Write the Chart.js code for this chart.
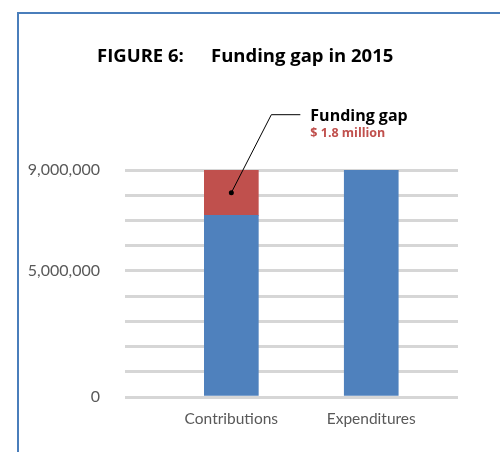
<!DOCTYPE html>
<html>
<head>
<meta charset="utf-8">
<script src="https://cdn.jsdelivr.net/npm/chart.js@4.4.1/dist/chart.umd.min.js"></script>
<style>
  html, body { margin: 0; padding: 0; background: #fff; }
  #wrap { position: relative; width: 500px; height: 452px; overflow: hidden; }
  #frame { position: absolute; left: 17px; top: 12px; width: 600px; height: 600px;
           border-left: 2px solid #4a7ebb; border-top: 2px solid #4a7ebb; }
  canvas { position: absolute; left: 0; top: 0; }
</style>
</head>
<body>
<div id="wrap">
  <div id="frame"></div>
  <canvas id="chart" width="500" height="452"></canvas>
</div>
<script>
// data
const categories = ["Contributions", "Expenditures"];
const baseValues = [7200000, 9000000];
const gapValues = [1800000, 0];
const yTickLabels = [0, 5000000, 9000000];
const titleParts = ["FIGURE 6:", "Funding gap in 2015"];
const gapNote = ["Funding gap", "$ 1.8 million"];

const blue = "#4f81bd";
const red = "#c0504d";

// title and the callout for the gap segment
const notesPlugin = {
  id: "notes",
  afterDraw(chart) {
    const ctx = chart.ctx;
    ctx.save();
    ctx.fillStyle = "#000";
    ctx.textBaseline = "alphabetic";
    ctx.textAlign = "left";
    ctx.font = "bold 18.5px 'Open Sans'";
    ctx.fillText(titleParts[0], 97, 62);
    ctx.fillText(titleParts[1], 211, 62);

    const bar = chart.getDatasetMeta(1).data[0];
    const ax = bar.x;
    const ay = (bar.y + bar.base) / 2;
    ctx.strokeStyle = "#000";
    ctx.lineWidth = 1;
    ctx.beginPath();
    ctx.moveTo(ax, ay);
    ctx.lineTo(ax + 40, ay - 78);
    ctx.lineTo(ax + 69, ay - 78);
    ctx.stroke();
    ctx.beginPath();
    ctx.arc(ax, ay, 2.5, 0, Math.PI * 2);
    ctx.fill();

    ctx.font = "bold 16px 'Open Sans'";
    ctx.fillText(gapNote[0], ax + 79, ay - 72);
    ctx.fillStyle = red;
    ctx.font = "bold 12.5px 'Open Sans'";
    ctx.fillText(gapNote[1], ax + 79, ay - 56);
    ctx.restore();
  }
};

new Chart(document.getElementById("chart"), {
  type: "bar",
  data: {
    datasets: [
      {
        label: "Base",
        data: categories.map((c, i) => ({ x: i, y: baseValues[i] })),
        backgroundColor: blue,
        barThickness: 54,
      },
      {
        label: "Gap",
        data: categories.map((c, i) => ({ x: i, y: gapValues[i] })),
        backgroundColor: red,
        barThickness: 54,
      },
    ],
  },
  options: {
    responsive: false,
    animation: false,
    layout: { padding: { top: 170, right: 42, left: 0, bottom: 0 } },
    plugins: { legend: { display: false }, tooltip: { enabled: false } },
    scales: {
      x: {
        type: "linear",
        stacked: true,
        offset: false,
        min: -0.76,
        max: 1.62,
        grid: { display: false, offset: false },
        border: { display: false },
        afterBuildTicks(scale) {
          scale.ticks = categories.map((c, i) => ({ value: i }));
        },
        afterFit(scale) { scale.height = 55; },
        ticks: {
          padding: 5,
          color: "#595959",
          font: { family: "Lato", size: 15.5 },
          callback: (v) => categories[v],
        },
      },
      y: {
        stacked: true,
        min: 0,
        max: 9000000,
        grid: { color: "#d6d6d6", lineWidth: 3, drawTicks: false },
        border: { display: false },
        afterFit(scale) { scale.width = 125; },
        ticks: {
          stepSize: 1000000,
          padding: 25,
          color: "#595959",
          font: { family: "Lato", size: 16 },
          callback: (v) => (yTickLabels.includes(v) ? v.toLocaleString("en-US") : ""),
        },
      },
    },
  },
  plugins: [notesPlugin],
});
</script>
</body>
</html>
